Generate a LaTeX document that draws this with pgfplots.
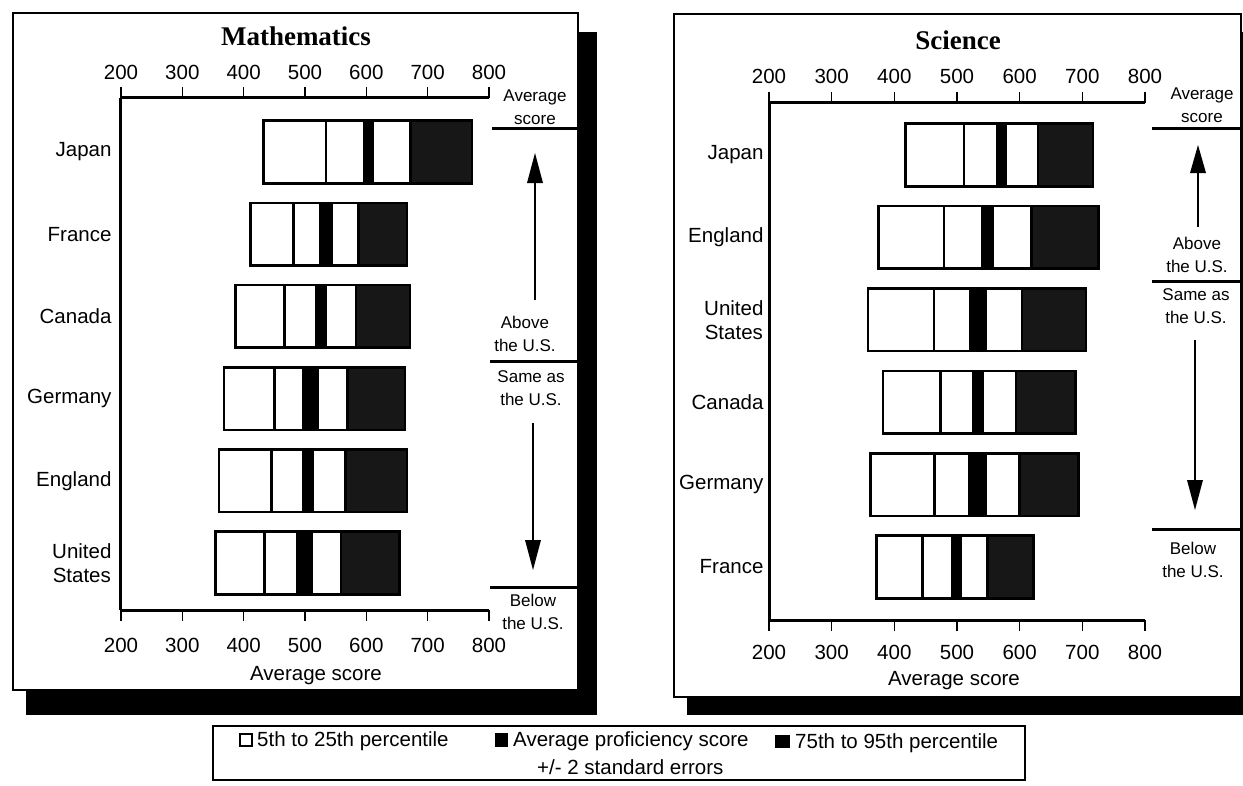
\documentclass[border=0pt]{standalone}
\usepackage{fontspec}
\setmainfont{Liberation Sans}
\newfontfamily\titlefont{Liberation Serif}
\usepackage{pgfplots}
\usepackage{pgfplotstable}
\pgfplotsset{compat=1.18}

% p5, p25 = 5th/25th percentile, lo/hi = mean -/+ 2 SE, p75, p95
\pgfplotstableread{
country p5 p25 lo hi p75 p95
Japan   432 534 596 611 672 772
France  411 481 525 544 587 666
Canada  387 467 519 534 583 671
Germany 368 450 497 520 569 663
England 360 445 498 513 566 666
US      354 434 488 511 559 654
}\mathdata

\pgfplotstableread{
country p5 p25 lo hi p75 p95
Japan   418 511 565 577 629 717
England 375 479 540 557 619 726
US      358 463 522 545 604 706
Canada  382 474 526 541 594 689
Germany 362 464 520 545 600 694
France  372 445 492 506 549 622
}\scidata

\newcommand\lbl{\fontsize{20.5}{24}\selectfont}
\newcommand\ann{\fontsize{17}{23}\selectfont}

\pgfplotsset{
  panel/.style={scale only axis, xmin=200, xmax=800,
    xtick={200,300,...,800}, tick align=outside, major tick length=11pt,
    axis line style={line width=3pt},
    x tick style={line width=1.2pt, black},
    /pgf/number format/assume math mode=true,
    ticklabel style={font=\lbl},
  },
  seg/.style={draw=black, line width=2.6pt, fill=#1},
}

\newcommand\bars[1]{%
  \addplot[draw=none, fill=none] table[x=p5, y expr=5-\coordindex]{#1};
  \addplot[seg=white] table[x expr=\thisrow{p25}-\thisrow{p5}, y expr=5-\coordindex]{#1};
  \addplot[seg=white] table[x expr=\thisrow{lo}-\thisrow{p25}, y expr=5-\coordindex]{#1};
  \addplot[seg=black] table[x expr=\thisrow{hi}-\thisrow{lo}, y expr=5-\coordindex]{#1};
  \addplot[seg=white] table[x expr=\thisrow{p75}-\thisrow{hi}, y expr=5-\coordindex]{#1};
  \addplot[seg=black!91] table[x expr=\thisrow{p95}-\thisrow{p75}, y expr=5-\coordindex]{#1};
}

\begin{document}
\begin{tikzpicture}
\path[use as bounding box] (0,0) rectangle (1243pt,-785pt);

% frames with drop shadows
\begin{scope}[x=1pt,y=-1pt]
  \fill (26,32) rectangle (597,715);
  \draw[line width=2.5pt, fill=white] (13,13) rectangle (578,690);
  \fill (687,32) rectangle (1243,715);
  \draw[line width=2.5pt, fill=white] (674,14) rectangle (1241,697);
\end{scope}

% ---- Mathematics
\begin{axis}[panel, at={(121pt,-98pt)}, anchor=north west,
  width=368pt, height=512pt, ymin=-0.572, ymax=5.657,
  xbar stacked, bar width=0.76,
  axis x line*=bottom, axis y line*=left,
  ytick={0,...,5},
  yticklabels={{United\\States},England,Germany,Canada,France,Japan},
  y tick style={draw=none},
  yticklabel style={align=center, xshift=5pt},
  xticklabel style={yshift=-14pt},
  xlabel={Average score},
  xlabel style={font=\lbl, at={(axis description cs:0.5,0)}, anchor=center, yshift=-66pt, xshift=11pt},
]
\bars{\mathdata}
\end{axis}
\begin{axis}[panel, at={(121pt,-98pt)}, anchor=north west,
  width=368pt, height=512pt, ymin=-0.572, ymax=5.657,
  axis x line*=top, axis y line=none, ytick=\empty,
  xticklabel style={yshift=4pt},
  title={Mathematics},
  title style={font=\titlefont\bfseries\fontsize{27}{30}\selectfont, at={(axis description cs:0.5,1)}, anchor=center, yshift=56pt, xshift=-9pt},
]
\end{axis}

% ---- Science
\begin{axis}[panel, at={(769pt,-103pt)}, anchor=north west,
  width=376pt, height=517pt, ymin=-0.643, ymax=5.631,
  xbar stacked, bar width=0.76,
  axis x line*=bottom, axis y line*=left,
  ytick={0,...,5},
  yticklabels={France,Germany,Canada,{United\\States},England,Japan},
  y tick style={draw=none},
  yticklabel style={align=center, xshift=9pt},
  xticklabel style={yshift=-11pt},
  xlabel={Average score},
  xlabel style={font=\lbl, at={(axis description cs:0.5,0)}, anchor=center, yshift=-61pt, xshift=-3pt},
]
\bars{\scidata}
\end{axis}
\begin{axis}[panel, at={(769pt,-103pt)}, anchor=north west,
  width=376pt, height=517pt, ymin=-0.643, ymax=5.631,
  axis x line*=top, axis y line=none, ytick=\empty,
  xticklabel style={yshift=5pt},
  title={Science},
  title style={font=\titlefont\bfseries\fontsize{27}{30}\selectfont, at={(axis description cs:0.5,1)}, anchor=center, yshift=57pt, xshift=1pt},
]
\end{axis}

\begin{scope}[x=1pt,y=-1pt]
  % side notes, mathematics
  \node[font=\ann, align=center] at (535,107) {Average\\score};
  \draw[line width=3pt] (492,128) -- (578,128);
  \draw[line width=1.2pt] (535,180) -- (535,300);
  \fill (535,153) -- (527,183) -- (543,183) -- cycle;
  \node[font=\ann, align=center] at (525,334) {Above\\the U.S.};
  \draw[line width=3pt] (490,361) -- (578,361);
  \node[font=\ann, align=center] at (531,388) {Same as\\the U.S.};
  \draw[line width=1.2pt] (533,423) -- (533,545);
  \fill (533,570) -- (525,540) -- (541,540) -- cycle;
  \draw[line width=3pt] (490,587) -- (578,587);
  \node[font=\ann, align=center] at (533,612) {Below\\the U.S.};

  % side notes, science
  \node[font=\ann, align=center] at (1202,105) {Average\\score};
  \draw[line width=3pt] (1152,128) -- (1241,128);
  \draw[line width=1.2pt] (1198,170) -- (1198,227);
  \fill (1198,145) -- (1190,173) -- (1206,173) -- cycle;
  \node[font=\ann, align=center] at (1197,255) {Above\\the U.S.};
  \draw[line width=3pt] (1152,281) -- (1241,281);
  \node[font=\ann, align=center] at (1196,306) {Same as\\the U.S.};
  \draw[line width=1.2pt] (1195,340) -- (1195,485);
  \fill (1195,510) -- (1187,480) -- (1203,480) -- cycle;
  \draw[line width=3pt] (1152,529) -- (1241,529);
  \node[font=\ann, align=center] at (1193,560) {Below\\the U.S.};

  % key
  \draw[line width=2pt, fill=white] (213,726) rectangle (1025,780);
  \draw[line width=2.2pt, fill=white] (240,734) rectangle (252,746);
  \node[font=\lbl, anchor=west, inner sep=0pt] at (257,741) {5th to 25th percentile};
  \fill (495,733) rectangle (508,747);
  \node[font=\lbl, anchor=west, inner sep=0pt] at (513,741) {Average proficiency score};
  \node[font=\lbl, anchor=west, inner sep=0pt] at (537,767) {+/- 2 standard errors};
  \fill (775,735) rectangle (790,748);
  \node[font=\lbl, anchor=west, inner sep=0pt] at (795,743) {75th to 95th percentile};
\end{scope}
\end{tikzpicture}
\end{document}
